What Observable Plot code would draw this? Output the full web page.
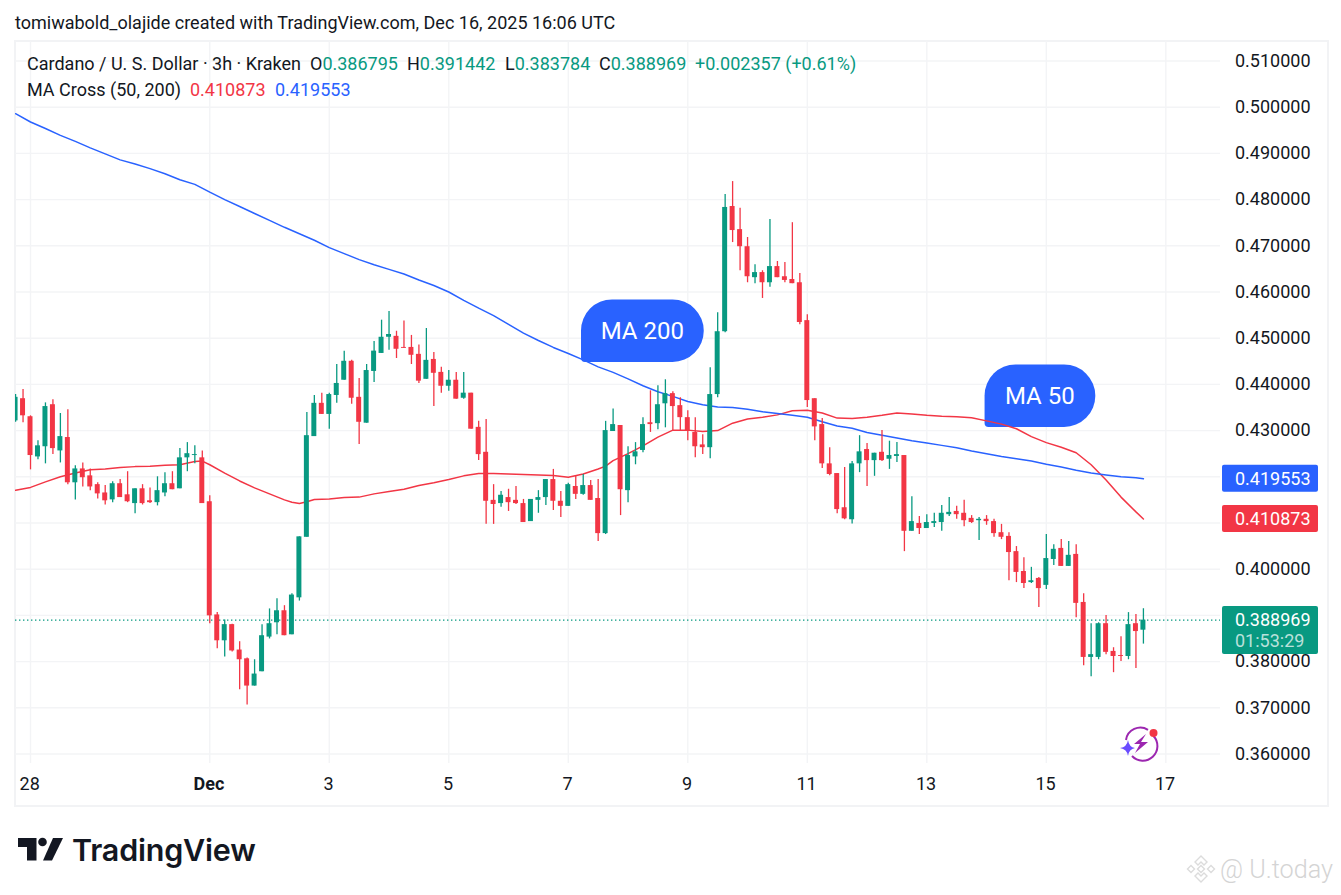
<!DOCTYPE html>
<html><head><meta charset="utf-8">
<script src="https://cdn.jsdelivr.net/npm/d3@7"></script>
<script src="https://cdn.jsdelivr.net/npm/@observablehq/plot@0.6"></script>
<style>
html,body{margin:0;padding:0;background:#fff;width:1341px;height:895px;overflow:hidden;font-family:Roboto,sans-serif;color:#131722}
.t{position:absolute;white-space:nowrap;font-size:18px;line-height:22px;letter-spacing:0}
.g{color:#089981}.r{color:#f23645}.b{color:#2962ff}
#frame{position:absolute;left:14px;top:40px;width:1311px;height:763px;border:2px solid #f2f3f5}
#chart{position:absolute;left:0;top:41px;z-index:2}
svg.ov{position:absolute;z-index:3}
</style></head><body>
<div id="frame"></div>
<div class="t" style="left:15px;top:12px">tomiwabold_olajide created with TradingView.com, Dec 16, 2025 16:06 UTC</div>
<div id="chart"></div>
<div class="t" style="left:27px;top:53px;z-index:4">Cardano / U. S. Dollar · 3h · Kraken</div>
<div class="t" style="left:310px;top:53px;z-index:4">O<span class="g">0.386795</span></div>
<div class="t" style="left:407px;top:53px;z-index:4">H<span class="g">0.391442</span></div>
<div class="t" style="left:505px;top:53px;z-index:4">L<span class="g">0.383784</span></div>
<div class="t" style="left:599px;top:53px;z-index:4">C<span class="g">0.388969</span></div>
<div class="t g" style="left:695px;top:53px;z-index:4">+0.002357 (+0.61%)</div>
<div class="t" style="left:27px;top:79px;z-index:4">MA Cross (50, 200)</div>
<div class="t r" style="left:190px;top:79px;z-index:4">0.410873</div>
<div class="t b" style="left:275px;top:79px;z-index:4">0.419553</div>

<svg class="ov" style="left:1115px;top:725px" width="50" height="40" viewBox="0 0 50 40">
  <path d="M11 15 A14.5 14.5 0 0 1 33 4.8" fill="none" stroke="#9c27b0" stroke-width="2"/>
  <path d="M38.5 11 A14.5 14.5 0 0 1 17 31" fill="none" stroke="#9c27b0" stroke-width="2"/>
  <path d="M31 9 L19 19 L25 19 L20 28 L33 17 L26 17 Z" fill="#9c27b0"/>
  <path d="M13 15 Q14 22 20 23 Q14 24 13 31 Q12 24 5 23 Q12 22 13 15 Z" fill="#6a4cff"/>
  <circle cx="38.5" cy="8" r="4" fill="#f23645"/>
</svg>

<svg class="ov" style="left:17px;top:837px" width="48" height="26" viewBox="0 0 48 26">
  <path d="M1 1 H19.5 V23.5 H10 V10 H1 Z" fill="#131722"/>
  <circle cx="25.5" cy="5" r="4.3" fill="#131722"/>
  <path d="M36 1 H46 L35 23.5 H26 Z" fill="#131722"/>
</svg>
<div class="t" style="left:72px;top:831px;font-family:Inter,sans-serif;font-weight:600;font-size:30.5px;line-height:38px;letter-spacing:-.2px">TradingView</div>

<svg class="ov" style="left:1186px;top:854px" width="30" height="30" viewBox="0 0 30 30">
  <g fill="none" stroke="#dcdcdc" stroke-width="1.4">
    <path d="M15 2 L21 8 L18 11 L15 8 L12 11 L9 8 Z"/>
    <path d="M15 28 L21 22 L18 19 L15 22 L12 19 L9 22 Z"/>
    <path d="M15 11.5 L18.5 15 L15 18.5 L11.5 15 Z"/>
    <path d="M5 11.5 L8.5 15 L5 18.5 L1.5 15 Z"/>
    <path d="M25 11.5 L28.5 15 L25 18.5 L21.5 15 Z"/>
  </g>
</svg>
<div class="t" style="left:1220px;top:855px;font-size:25.2px;line-height:30px;color:#d4d4d4;font-weight:300">@ U.today</div>

<script>
// Candles: 3h bars, first bar index -26 relative to Dec 1 00:00 UTC
const firstCandle = -26;
const opens = [
.4321,.4369,.4330,.4243,.4265,.4356,.4256,.4285,.4187,.4217,
.4202,.4183,.4165,.4150,.4185,.4161,.4142,.4174,.4148,.4144,
.4165,.4185,.4174,.4241,.4246,.4241,
.4146,.3901,.3845,.3880,.3825,.3806,.3747,.3778,.3853,.3884,
.3910,.3858,.3938,.4069,.4287,.4359,.4335,.4376,.4409,.4450,
.4372,.4316,.4428,.4467,.4502,.4504,.4480,.4480,.4465,.4411,
.4454,.4426,.4396,.4409,.4370,.4381,.4307,.4253,.4149,.4142,
.4155,.4149,.4142,.4103,.4149,.4155,.4194,.4147,.4136,.4179,
.4162,.4181,.4153,.4077,.4298,.4311,.4170,.4243,.4257,.4317,
.4315,.4358,.4380,.4354,.4328,.4296,.4269,.4263,.4378,.4514,
.4785,.4735,.4698,.4631,.4642,.4620,.4655,.4633,.4627,.4620,
.4538,.4369,.4313,.4228,.4207,.4133,.4107,.4228,.4259,.4235,
.4253,.4238,.4244,.4246,.4082,.4099,.4088,.4099,.4101,.4118,
.4125,.4121,.4110,.4105,.4108,.4103,.4079,.4071,.4038,.3995,
.3971,.3980,.3965,.4021,.4045,.4006,.4032,.3928,.3809,.3809,
.3882,.3822,.3813,.3811,.3882,.386795];
const highs = [
.4378,.4389,.4332,.4278,.4360,.4367,.4337,.4345,.4224,.4230,
.4217,.4187,.4181,.4189,.4194,.4211,.4174,.4183,.4176,.4200,
.4209,.4211,.4261,.4274,.4267,.4256,
.4159,.3906,.3890,.3881,.3843,.3808,.3804,.3880,.3914,.3936,
.3921,.3947,.4070,.4339,.4376,.4381,.4381,.4443,.4472,.4452,
.4413,.4443,.4493,.4539,.4558,.4515,.4537,.4506,.4485,.4521,
.4469,.4437,.4430,.4426,.4426,.4381,.4320,.4324,.4183,.4168,
.4173,.4179,.4151,.4151,.4170,.4194,.4216,.4168,.4186,.4201,
.4205,.4192,.4194,.4320,.4347,.4311,.4265,.4274,.4328,.4386,
.4397,.4410,.4384,.4371,.4343,.4328,.4291,.4436,.4555,.4811,
.4839,.4781,.4718,.4659,.4646,.4757,.4666,.4664,.4750,.4640,
.4551,.4369,.4326,.4263,.4207,.4220,.4233,.4289,.4272,.4251,
.4300,.4277,.4274,.4246,.4157,.4114,.4118,.4121,.4138,.4155,
.4136,.4149,.4116,.4112,.4116,.4108,.4097,.4079,.4049,.4025,
.4004,.3982,.4075,.4053,.4064,.4060,.4053,.3947,.3882,.3884,
.3900,.3830,.3854,.3906,.3902,.391442];
const lows = [
.4318,.4317,.4215,.4237,.4228,.4248,.4230,.4183,.4150,.4178,
.4170,.4152,.4139,.4144,.4155,.4144,.4120,.4139,.4142,.4137,
.4157,.4172,.4174,.4211,.4228,.4142,
.3882,.3828,.3810,.3821,.3739,.3706,.3747,.3778,.3849,.3858,
.3856,.3858,.3931,.4069,.4287,.4335,.4303,.4359,.4409,.4357,
.4270,.4316,.4404,.4467,.4474,.4456,.4478,.4443,.4402,.4411,
.4352,.4381,.4385,.4368,.4368,.4303,.4235,.4097,.4097,.4134,
.4125,.4140,.4101,.4103,.4121,.4138,.4127,.4112,.4136,.4151,
.4160,.4149,.4060,.4075,.4298,.4116,.4144,.4226,.4252,.4296,
.4302,.4306,.4300,.4298,.4278,.4241,.4248,.4239,.4371,.4512,
.4707,.4646,.4620,.4618,.4586,.4610,.4631,.4620,.4618,.4529,
.4350,.4278,.4218,.4202,.4120,.4107,.4098,.4209,.4179,.4201,
.4233,.4216,.4231,.4038,.4082,.4075,.4088,.4090,.4082,.4114,
.4108,.4092,.4099,.4062,.4095,.4069,.4064,.3975,.3971,.3958,
.3969,.3917,.3956,.4008,.4006,.4006,.3895,.3791,.3767,.3804,
.3815,.3776,.3800,.3804,.3785,.383784];
const closes = [
.4372,.4332,.4246,.4267,.4352,.4261,.4287,.4187,.4217,.4198,
.4178,.4163,.4148,.4185,.4155,.4146,.4174,.4142,.4144,.4170,
.4185,.4172,.4241,.4250,.4248,.4142,
.3899,.3845,.3880,.3823,.3804,.3747,.3773,.3856,.3882,.3910,
.3856,.3944,.4070,.4289,.4359,.4335,.4378,.4402,.4450,.4370,
.4318,.4430,.4472,.4502,.4508,.4476,.4478,.4463,.4407,.4452,
.4424,.4396,.4409,.4368,.4381,.4303,.4248,.4147,.4140,.4160,
.4144,.4142,.4101,.4151,.4155,.4194,.4147,.4136,.4183,.4162,
.4181,.4149,.4077,.4300,.4313,.4172,.4246,.4254,.4313,.4313,
.4356,.4380,.4352,.4328,.4300,.4265,.4263,.4378,.4514,.4783,
.4733,.4698,.4633,.4642,.4620,.4655,.4631,.4625,.4618,.4534,
.4365,.4308,.4228,.4205,.4129,.4109,.4228,.4254,.4235,.4251,
.4235,.4246,.4248,.4082,.4103,.4088,.4101,.4103,.4121,.4123,
.4118,.4105,.4101,.4108,.4103,.4077,.4069,.4036,.3993,.3969,
.3975,.3958,.4023,.4043,.4006,.4030,.3926,.3809,.3815,.3882,
.3820,.3811,.3811,.3880,.3865,.388969];

// Moving averages, read at these candle indices
const ma200Candle = [-26,-24,-22,-20,-18,-16,-14,-12,-10,-8,-6,-4,-2,0,2,4,6,8,10,12,14,16,18,20,22,24,26,28,30,32,34,36,38,40,42,44,46,48,50,52,54,56,58,60,62,64,66,68,70,72,74,76,78,80,82,84,86,88,90,92,94,96,98,100,102,104,106,108,110,112,114,116,118,120,122,124,125];
const ma200Value = [.4986,.4968,.4954,.4939,.4926,.4912,.4899,.4886,.4877,.4867,.4856,.4843,.4833,.4816,.4800,.4785,.4770,.4755,.4740,.4726,.4712,.4696,.4683,.4670,.4659,.4649,.4639,.4626,.4614,.4600,.4582,.4565,.4549,.4530,.4511,.4495,.4480,.4467,.4453,.4438,.4426,.4412,.4397,.4384,.4374,.4363,.4356,.4351,.4350,.4346,.4341,.4337,.4333,.4329,.4319,.4310,.4305,.4296,.4290,.4284,.4278,.4273,.4268,.4263,.4256,.4250,.4244,.4239,.4234,.4227,.4221,.4214,.4208,.4204,.4200,.4198,.419553];
const ma50Candle = [-26,-24,-22,-20,-18,-16,-14,-12,-10,-8,-6,-4,-2,-1,0,2,4,6,8,10,11,12,13,14,16,18,20,22,24,26,28,30,32,34,36,38,40,42,44,46,48,50,52,53,54,56,58,60,62,64,66,68,70,72,74,76,78,80,82,84,86,88,90,92,94,96,98,100,102,104,106,108,110,112,114,116,118,120,122,124,125];
const ma50Value = [.4171,.4177,.4189,.4200,.4208,.4215,.4217,.4220,.4222,.4223,.4225,.4226,.4233,.4234,.4226,.4208,.4191,.4176,.4163,.4150,.4145,.4142,.4146,.4151,.4152,.4155,.4156,.4163,.4168,.4173,.4181,.4187,.4194,.4202,.4207,.4207,.4206,.4205,.4204,.4203,.4199,.4206,.4217,.4223,.4235,.4250,.4267,.4286,.4301,.4301,.4298,.4300,.4316,.4325,.4329,.4334,.4343,.4344,.4338,.4327,.4326,.4329,.4333,.4338,.4336,.4333,.4331,.4330,.4328,.4321,.4314,.4304,.4287,.4274,.4264,.4252,.4226,.4193,.4156,.4124,.410873];

// Axis ticks
const priceTicks = [.36,.37,.38,.39,.40,.41,.42,.43,.44,.45,.46,.47,.48,.49,.50,.51];
const priceLabels = [.36,.37,.38,.40,.43,.44,.45,.46,.47,.48,.49,.50,.51];
const dateTicks = ["2025-11-28","2025-12-01","2025-12-03","2025-12-05","2025-12-07","2025-12-09","2025-12-11","2025-12-13","2025-12-15","2025-12-17"].map(d => new Date(d+"T00:00:00Z"));

// Price tags on the right-hand scale
const lastPrice = .388969;
const tags = [
  {price:.419553, top:.419553+.00292, bottom:.419553-.00292, fill:"#2962ff"},
  {price:.410873, top:.410873+.00292, bottom:.410873-.00292, fill:"#f23645"},
  {price:lastPrice, top:lastPrice+.00297, bottom:lastPrice-.00742, fill:"#089981"}
];
const countdown = "01:53:29";

// Callouts: label, candle and price of the tail corner, bubble width
const calloutLabel = ["MA 200","MA 50"];
const calloutCandle = [49.77,103.8];
const calloutPrice = [.44474,.43067];
const calloutWidth = [122.5,110.5];

const GREEN="#089981", RED="#f23645", BLUE="#2962ff", GRID="#f3f4f6", INK="#131722";
const H = 3600e3;
const day0 = Date.UTC(2025,11,1);
const timeOf = i => new Date(day0 + i*3*H);

const candles = opens.map((o,k)=>({
  t: timeOf(firstCandle+k), t1: timeOf(firstCandle+k-1/3), t2: timeOf(firstCandle+k+1/3),
  o, h:highs[k], l:lows[k], c:closes[k], col: closes[k]>=o ? GREEN : RED
}));
const ma200 = ma200Candle.map((i,k)=>({t:timeOf(i), v:ma200Value[k]}));
const ma50 = ma50Candle.map((i,k)=>({t:timeOf(i), v:ma50Value[k]}));

// Rounded callout with a nearly square lower-left corner, placed through the scales
function callouts(index, scales) {
  const g = d3.create("svg:g");
  const bh = 62.5, r = 31, c = 4;
  calloutLabel.forEach((label,k)=>{
    const x = scales.x(timeOf(calloutCandle[k])), y = scales.y(calloutPrice[k]), w = calloutWidth[k];
    const d = `M${x+c},${y} A${c},${c} 0 0 1 ${x},${y-c} V${y-bh+r} A${r},${r} 0 0 1 ${x+r},${y-bh}`
      + ` H${x+w-r} A${r},${r} 0 0 1 ${x+w-r},${y} Z`;
    g.append("path").attr("d",d).attr("fill",BLUE);
    g.append("text").attr("x",x+w/2).attr("y",y-bh/2).attr("dy","0.35em").attr("text-anchor","middle")
      .attr("fill","#fff").attr("font-size",24).text(label);
  });
  return g.node();
}

const chart = Plot.plot({
  width:1341, height:764,
  marginLeft:15, marginRight:121, marginTop:0, marginBottom:42,
  style:{fontFamily:"Roboto,sans-serif", fontSize:"18px", background:"transparent", color:INK, overflow:"visible"},
  x:{type:"utc", domain:[timeOf(-26.01), timeOf(135.32)]},
  y:{type:"linear", domain:[.35794,.51422]},
  marks:[
    Plot.ruleY(priceTicks,{stroke:GRID, strokeWidth:1.4}),
    Plot.ruleX(dateTicks,{stroke:GRID, strokeWidth:1.4}),
    Plot.axisY(priceLabels,{anchor:"right", tickSize:0, tickPadding:14.5, label:null, tickFormat:d=>d.toFixed(6), fill:INK}),
    Plot.axisX(dateTicks.filter(d=>d.getUTCDate()!==1),{anchor:"bottom", tickSize:0, tickPadding:14, dx:-0.8, label:null, tickFormat:d=>String(d.getUTCDate()), fill:INK}),
    Plot.axisX(dateTicks.filter(d=>d.getUTCDate()===1),{anchor:"bottom", tickSize:0, tickPadding:14, dx:-0.8, label:null, tickFormat:()=>"Dec", fill:INK, fontWeight:700}),
    Plot.ruleY([lastPrice],{stroke:GREEN, strokeWidth:1.1, strokeDasharray:"1.4 2.6"}),
    callouts,
    Plot.line(ma50,{x:"t", y:"v", stroke:RED, strokeWidth:1.5, clip:true}),
    Plot.line(ma200,{x:"t", y:"v", stroke:BLUE, strokeWidth:1.5, clip:true}),
    Plot.ruleX(candles,{x:"t", y1:"l", y2:"h", stroke:"col", strokeWidth:1.3, clip:true}),
    Plot.rect(candles,{x1:"t1", x2:"t2", y1:"o", y2:"c", fill:"col", clip:true}),
    Plot.rect(tags,{y1:"bottom", y2:"top", fill:"fill", insetLeft:1207, insetRight:-98, rx:2}),
    Plot.text(tags,{y:"price", text:d=>d.price.toFixed(6), frameAnchor:"right", textAnchor:"start", dx:14.5, fill:"#fff"}),
    Plot.text([lastPrice],{y:d=>d, text:()=>countdown, frameAnchor:"right", textAnchor:"start", dx:14.5, dy:21, fill:"#fff", fillOpacity:.72})
  ]
});
document.getElementById("chart").appendChild(chart);
</script>
</body></html>
